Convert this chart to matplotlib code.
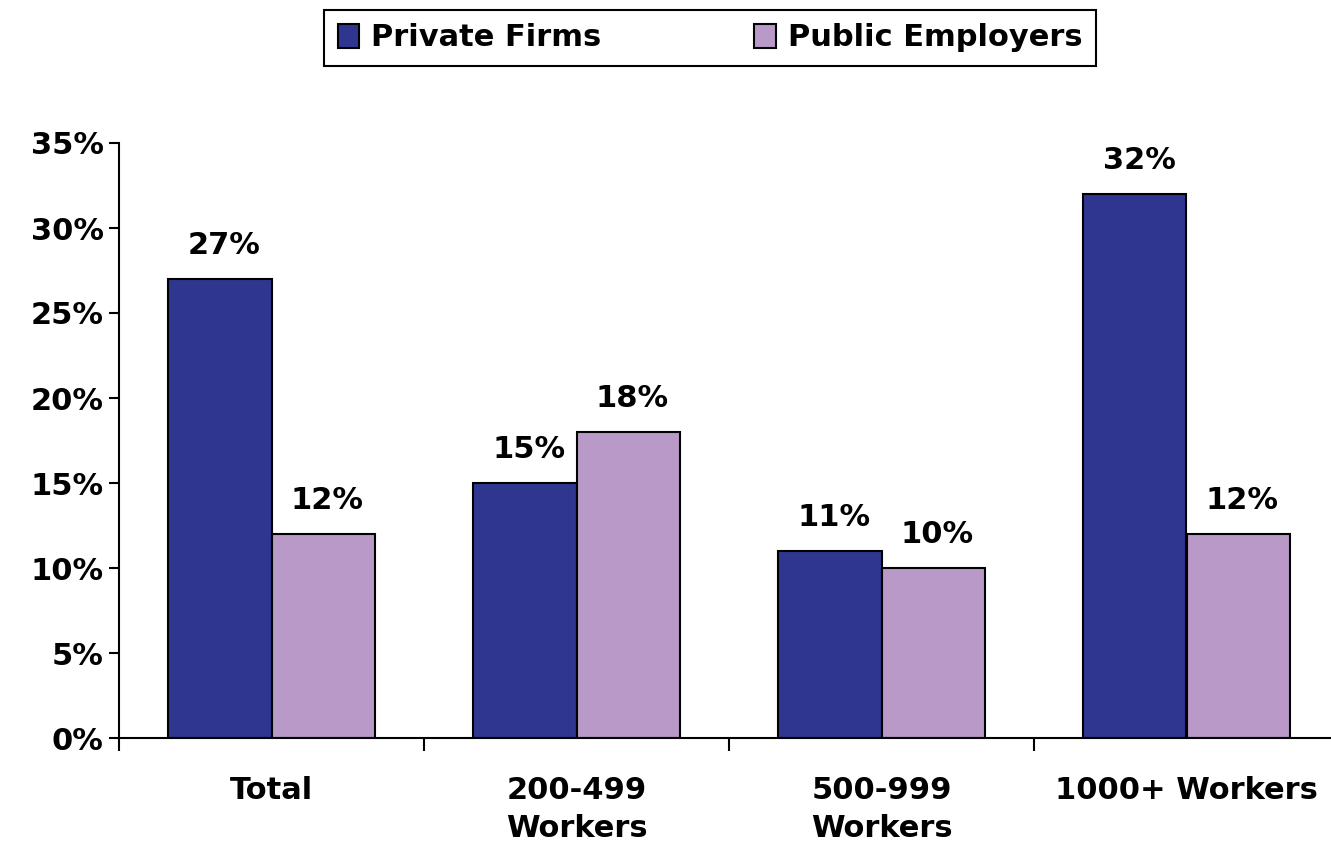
import numpy as np
import matplotlib.pyplot as plt
from matplotlib.ticker import PercentFormatter

# Dane
categories = ['Total', '200-499\nWorkers', '500-999\nWorkers', '1000+ Workers']
private_firms = [27, 15, 11, 32]
public_employers = [12, 18, 10, 12]
y_ticks = [0, 5, 10, 15, 20, 25, 30, 35]

plt.rcParams['font.family'] = ['DejaVu Sans']
plt.rcParams['font.weight'] = 'bold'

fig = plt.figure(figsize=(13.31, 8.47), dpi=100)
ax = fig.add_axes([119 / 1331, 109 / 847, 1220 / 1331, 595 / 847])

x = np.arange(len(categories)) + 0.5
w = 0.338
b1 = ax.bar(x - w / 2, private_firms, w, color='#2E3690', edgecolor='black',
            linewidth=1.5, label='Private Firms')
b2 = ax.bar(x + w / 2, public_employers, w, color='#B899C8', edgecolor='black',
            linewidth=1.5, label='Public Employers')

# Etykiety wartości
for bars, vals in ((b1, private_firms), (b2, public_employers)):
    for bar, v in zip(bars, vals):
        ax.annotate(f'{v}%', (bar.get_x() + bar.get_width() / 2, v),
                    xytext=(3, 14), textcoords='offset points',
                    ha='center', va='bottom', fontsize=22, fontweight='bold')

ax.set_xlim(0, 4)
ax.set_ylim(0, 35)
ax.set_yticks(y_ticks)
ax.yaxis.set_major_formatter(PercentFormatter(decimals=0))
ax.tick_params(axis='y', labelsize=22, length=7, width=1.5, pad=4)

ax.set_xticks([0, 1, 2, 3])
ax.set_xticklabels([])
ax.tick_params(axis='x', which='major', length=9, width=1.5)
ax.set_xticks(x, minor=True)
ax.set_xticklabels(categories, minor=True, fontsize=22, fontweight='bold',
                   linespacing=1.4, va='top')
ax.tick_params(axis='x', which='minor', length=0, pad=27)

for s in ('top', 'right'):
    ax.spines[s].set_visible(False)
ax.spines['left'].set_linewidth(1.5)
ax.spines['bottom'].set_linewidth(1.5)

leg = fig.legend(loc='center', bbox_to_anchor=(710 / 1331, 1 - 38 / 847),
                 ncol=2, fontsize=22, frameon=True, fancybox=False,
                 edgecolor='black', framealpha=1, handlelength=0.7,
                 handleheight=0.8, columnspacing=5.0, handletextpad=0.4,
                 borderpad=0.45, borderaxespad=0)
leg.get_frame().set_linewidth(1.5)
for t in leg.get_texts():
    t.set_fontweight('bold')

fig.savefig('out.png', dpi=100)
